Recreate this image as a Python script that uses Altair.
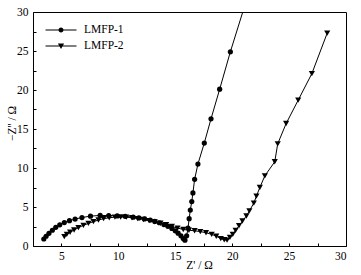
import altair as alt
import pandas as pd

series_names = ["LMFP-1", "LMFP-2"]

x1 = [3.45, 3.65, 3.9, 4.2, 4.5, 4.85, 5.25, 5.7, 6.2, 6.8, 7.55, 8.4, 9.15, 9.9,
      10.6, 11.3, 11.8, 12.3, 12.8, 13.2, 13.6, 14.0, 14.35, 14.7, 15.0, 15.25,
      15.5, 15.7, 15.85, 16.0, 16.12, 16.22, 16.32, 16.45, 16.55, 16.7, 16.99,
      17.55, 18.14, 18.9, 19.84, 21.1]
y1 = [0.9, 1.25, 1.62, 2.02, 2.4, 2.72, 3.0, 3.25, 3.45, 3.65, 3.83, 3.92, 3.9, 3.86,
      3.8, 3.7, 3.6, 3.47, 3.32, 3.15, 2.98, 2.75, 2.52, 2.25, 1.95, 1.65,
      1.3, 0.95, 0.75, 1.3, 2.3, 3.5, 4.6, 5.7, 6.8, 8.55, 10.5,
      13.2, 16.3, 20.1, 24.9, 30.8]

x2 = [5.25, 5.47, 5.76, 6.11, 6.49, 6.93, 7.37, 7.81, 8.25, 8.7, 9.2, 9.7, 10.2,
      10.7, 11.2, 11.7, 12.2, 12.7, 13.2, 13.7, 14.2, 14.7, 15.2, 15.7, 16.2,
      16.7, 17.2, 17.7, 18.2, 18.6, 19.0, 19.3, 19.55, 19.8, 20.05, 20.3, 20.6,
      20.9, 21.25, 21.51, 21.9, 22.13, 22.43, 22.87, 23.74, 24.0, 24.74, 25.8,
      27.0, 28.35]
y2 = [1.2, 1.5, 1.76, 2.05, 2.35, 2.65, 2.9, 3.12, 3.33, 3.5, 3.62, 3.7, 3.72,
      3.7, 3.62, 3.52, 3.4, 3.25, 3.1, 2.92, 2.72, 2.5, 2.3, 2.12, 2.02,
      1.95, 1.85, 1.7, 1.5, 1.25, 0.95, 0.8, 0.75, 1.1, 1.5, 2.0, 2.6,
      3.2, 3.85, 4.5, 5.5, 6.4, 7.5, 9.0, 10.8, 13.1, 15.7, 18.7,
      22.1, 27.3]

x_labels = [5, 10, 15, 20, 25, 30]
y_labels = [0, 5, 10, 15, 20, 25, 30]
x_ticks = [5, 7.5, 10, 12.5, 15, 17.5, 20, 22.5, 25, 27.5]
y_ticks = [2.5, 5, 7.5, 10, 12.5, 15, 17.5, 20, 22.5, 25, 27.5]
x_domain = [2.5, 30]
y_domain = [0, 30]

rows = []
for name, xs, ys in [(series_names[0], x1, y1), (series_names[1], x2, y2)]:
    for i, (a, b) in enumerate(zip(xs, ys)):
        rows.append({"x": a, "y": b, "series": name, "i": i})
df = pd.DataFrame(rows)

W, H = 313, 234
FONT = "Liberation Serif"

xs = alt.Scale(domain=x_domain, nice=False, zero=False)
ys = alt.Scale(domain=y_domain, nice=False, zero=False)

line = alt.Chart(df).mark_line(color="black", strokeWidth=1, clip=True).encode(
    x=alt.X("x:Q", scale=xs, axis=alt.Axis(
        orient="bottom", values=x_labels, tickSize=0, labelPadding=4,
        title="Z' / Ω", titleX=166, titleY=22, titleBaseline="alphabetic",
        titleAnchor="middle", titleAlign="center")),
    y=alt.Y("y:Q", scale=ys, axis=alt.Axis(
        orient="left", values=y_labels, tickSize=0, labelPadding=5,
        title="−Z'' / Ω", titleX=-18, titleY=111, titleBaseline="alphabetic",
        titleAngle=270, titleAlign="center")),
    detail="series:N",
    order="i:Q",
)

points = alt.Chart(df).mark_point(filled=True, opacity=1, clip=True).encode(
    x=alt.X("x:Q", scale=xs, axis=alt.Axis(
        orient="top", offset=-H, values=x_ticks, tickSize=3, labels=False,
        domain=False, title=None)),
    y=alt.Y("y:Q", scale=ys, axis=alt.Axis(
        orient="right", offset=-W, values=y_ticks, tickSize=3, labels=False,
        domain=False, title=None)),
    shape=alt.Shape("series:N", scale=alt.Scale(domain=series_names,
                                                range=["circle", "triangle-down"]),
                    legend=None),
    size=alt.Size("series:N", scale=alt.Scale(domain=series_names, range=[27, 38]),
                  legend=None),
    color=alt.value("black"),
)

# legend glyphs: filled 1px-thick bar with a marker on top (all filled shapes)
legend_paths = [
    "M-3.1,-0.1L3.1,-0.1L3.1,0.1L-3.1,0.1Z"
    "M-0.5,0A0.5,0.5,0,1,1,0.5,0A0.5,0.5,0,1,1,-0.5,0Z",
    "M-3.1,-0.1L3.1,-0.1L3.1,0.1L-3.1,0.1Z"
    "M-0.62,-0.5L0.62,-0.5L0,0.58Z",
]

legend_layer = alt.Chart(df).mark_point(
    filled=True, opacity=0, fill="black"
).encode(
    x=alt.X("x:Q", scale=xs, axis=None),
    y=alt.Y("y:Q", scale=ys, axis=None),
    shape=alt.Shape("series:N", scale=alt.Scale(domain=series_names, range=legend_paths),
                    legend=alt.Legend(title=None, orient="none", legendX=22, legendY=12,
                                      symbolSize=100, symbolOpacity=1,
                                      symbolFillColor="black",
                                      labelOffset=17,
                                      labelFont=FONT, labelFontSize=11.5,
                                      labelColor="black", rowPadding=4, padding=0)),
)

chart = alt.layer(line, points, legend_layer).resolve_scale(
    shape="independent", size="independent"
).resolve_axis(
    x="independent", y="independent"
).properties(
    width=W, height=H,
    autosize=alt.AutoSizeParams(type="none"),
    padding={"left": 33, "top": 12, "right": 15, "bottom": 29},
    background="white",
).configure_view(
    stroke="black", strokeWidth=1
).configure_axis(
    grid=False, domainColor="black", domainWidth=1, tickColor="black", tickWidth=1,
    labelFont=FONT, labelFontSize=11.5, labelColor="black",
    titleFont=FONT, titleFontSize=11.5, titleFontWeight="normal", titleColor="black",
)

chart.save("out.html", embed_options={"renderer": "svg", "actions": False})
